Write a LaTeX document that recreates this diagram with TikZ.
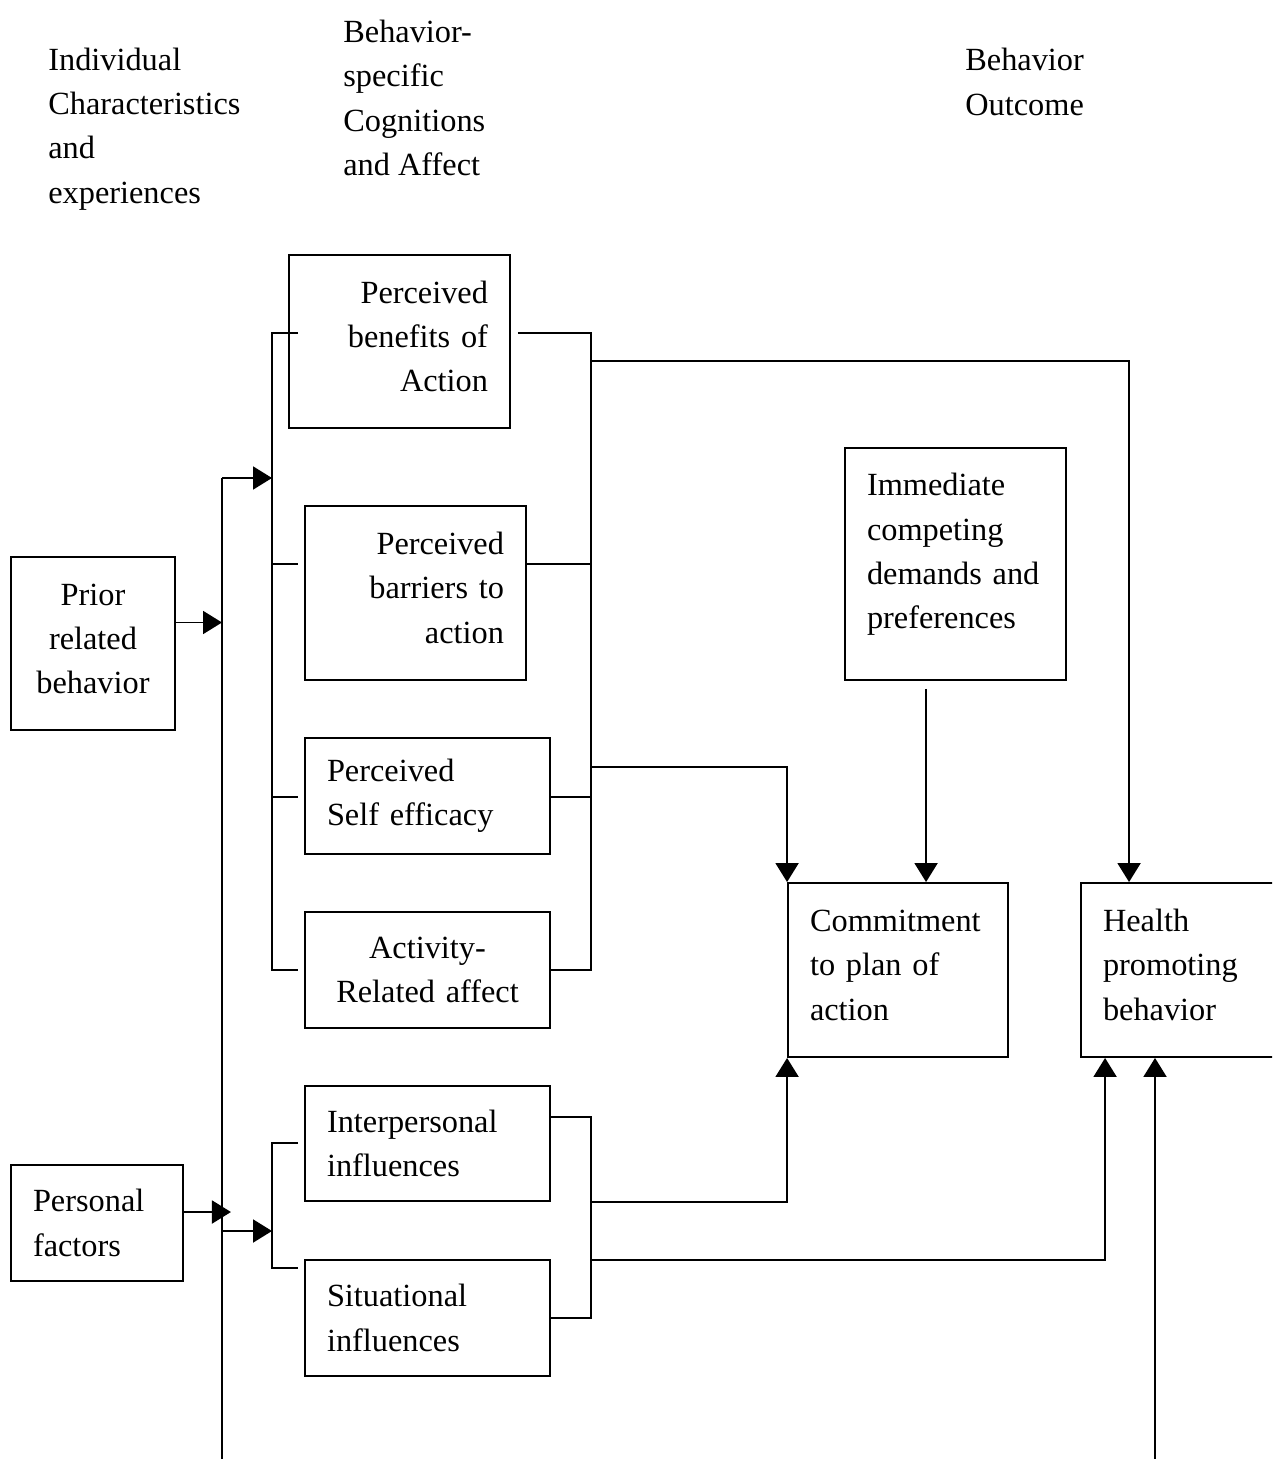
\documentclass[tikz,border=0pt]{standalone}
\usepackage{fontspec}
\setmainfont{Liberation Serif}
\usepackage{tikz}
\usetikzlibrary{shapes,arrows.meta,positioning,calc}
\newcommand{\boxfont}{\fontsize{18.4pt}{25.3pt}\selectfont}
\tikzstyle{factor} = [rectangle, draw=black, line width=1.1pt, fill=white, inner xsep=0.44cm, inner ysep=0pt, font=\boxfont]
\tikzstyle{tall} = [text height=7pt]
\tikzstyle{textonly} = [draw=none, fill=none, inner sep=0pt, align=left, font=\boxfont]
\tikzstyle{ledge} = [draw, line width=1.1pt]
\tikzstyle{aedge} = [draw, line width=1.1pt, -{Triangle[length=0.38cm, width=0.46cm]}]

\begin{document}
\begin{tikzpicture}[x=0.02cm, y=-0.02cm]

\useasboundingbox (0,0) rectangle (1272,1459);
\clip (0,0) rectangle (1272,1459);

% headings =============================
\node[textonly, anchor=west] (indiv) at (48,129) {Individual\\Characteristics\\and\\experiences};
\node[textonly, anchor=west] (cogn) at (343,98) {Behavior-\\specific\\Cognitions\\and Affect};
\node[textonly, anchor=west] (outcome) at (965,82) {Behavior\\Outcome};

% factors =============================

% individual characteristics
\node[factor, tall, text width=2.4cm, minimum height=3.46cm, align=center] (prior) at (93,643.5) {Prior\\related\\behavior};
\node[factor, text width=2.56cm, minimum height=2.32cm, align=left] (personal) at (97,1223) {Personal\\factors};

% cognitions and affect
\node[factor, tall, text width=3.54cm, minimum height=3.46cm, align=right] (benefits) at (399.5,341.5) {Perceived\\benefits of\\Action};
\node[factor, tall, text width=3.54cm, minimum height=3.48cm, align=right] (barriers) at (415.5,593) {Perceived\\barriers to\\action};
\node[factor, text width=4.02cm, minimum height=2.32cm, align=left] (selfeff) at (427.5,796) {Perceived\\Self efficacy};
\node[factor, text width=4.02cm, minimum height=2.32cm, align=center] (activity) at (427.5,970) {Activity-\\Related affect};
\node[factor, text width=4.02cm, minimum height=2.30cm, align=left] (interp) at (427.5,1143.5) {Interpersonal\\influences};
\node[factor, text width=4.02cm, minimum height=2.32cm, align=left] (situat) at (427.5,1318) {Situational\\influences};

% outcome
\node[factor, text width=3.54cm, minimum height=4.64cm, align=left, text height=2pt] (immediate) at (955.5,564) {Immediate\\competing\\demands and\\preferences};
\node[factor, tall, text width=3.52cm, minimum height=3.48cm, align=left] (commit) at (898,970) {Commitment\\to plan of\\action};
\node[factor, tall, text width=3.54cm, minimum height=3.48cm, align=left] (health) at (1191.5,970) {Health\\promoting\\behavior};

% junctions
\coordinate (feed) at (222,478);
\coordinate (spineend) at (222,1470);
\coordinate (lfeed) at (222,1231);
\coordinate (lb1) at (272,333);
\coordinate (lb2) at (272,564);
\coordinate (lb3) at (272,797);
\coordinate (lb4) at (272,970);
\coordinate (lb5) at (272,1143);
\coordinate (lb6) at (272,1268);
\coordinate (rb1) at (591,333);
\coordinate (rb2) at (591,564);
\coordinate (rb3) at (591,797);
\coordinate (rb4) at (591,970);
\coordinate (rb5) at (591,1117);
\coordinate (rb6) at (591,1318);
\coordinate (rj1) at (591,361);
\coordinate (rj2) at (591,767);
\coordinate (rj3) at (591,1202);
\coordinate (rj4) at (591,1260);
\coordinate (hpend) at (1155,1470);
\coordinate (prout) at ($(prior.east)+(0,-21)$);
\coordinate (peout) at ($(personal.east)+(0,-11)$);
\coordinate (immout) at ($(immediate.south west)+(82,8)$);

% edges individual to cognitions
\path[ledge] (feed) -- (spineend);
\path[aedge] (prout) -- (prout -| feed);
\path[aedge] (peout) -- ++(47,0);
\path[aedge] (feed) -- (lb1 |- feed);
\path[aedge] (lfeed) -- (lb5 |- lfeed);

% brackets
\path[ledge] ($(lb1)+(26,0)$) -- (lb1) -- (lb4) -- ++(26,0);
\path[ledge] (lb2) -- ++(26,0);
\path[ledge] (lb3) -- ++(26,0);
\path[ledge] ($(lb5)+(26,0)$) -- (lb5) -- (lb6) -- ++(26,0);

\path[ledge] ($(benefits.east |- rb1)+(7,0)$) -- (rb1) -- (rb4) -- (activity.east |- rb4);
\path[ledge] (barriers.east |- rb2) -- (rb2);
\path[ledge] (selfeff.east |- rb3) -- (rb3);
\path[ledge] (interp.east |- rb5) -- (rb5) -- (rb6) -- (situat.east |- rb6);

% edges cognitions to outcome
\path[aedge] (rj1) -| ($(health.north west)+(49,0)$);
\path[aedge] (rj2) -| (commit.north west);
\path[aedge] (immout) -- (immout |- commit.north);
\path[aedge] (rj3) -| (commit.south west);
\path[aedge] (rj4) -| ($(health.south west)+(25,0)$);
\path[aedge] (hpend) -- (hpend |- health.south);

\end{tikzpicture}
\end{document}
